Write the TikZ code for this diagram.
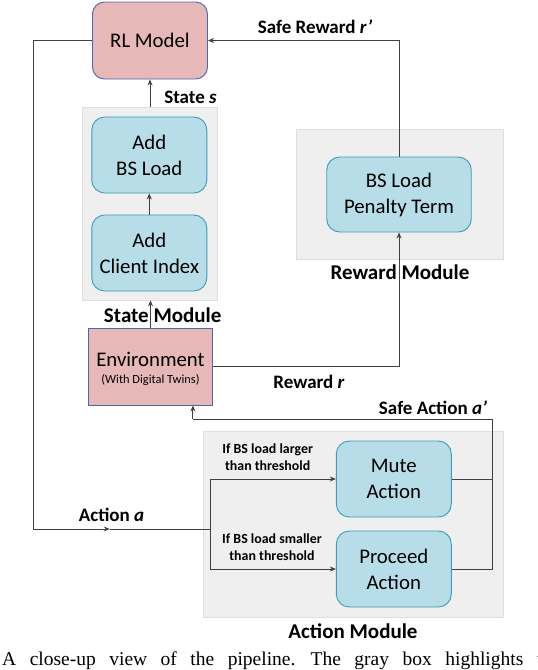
\documentclass[tikz,border=0pt]{standalone}
\usepackage{fontspec}
\setmainfont{Carlito}
\newfontfamily\capfont{Liberation Serif}
\usetikzlibrary{arrows.meta}
\definecolor{pinkfill}{HTML}{E6B9B8}
\definecolor{pinkedge}{HTML}{4A66AC}
\definecolor{cyanfill}{HTML}{B7DEE8}
\definecolor{cyanedge}{HTML}{3E9AB5}
\definecolor{grayfill}{HTML}{EFEFEF}
\definecolor{grayedge}{HTML}{DEDEDE}
\definecolor{linecol}{HTML}{404040}
\tikzset{
  boxtext/.style={font=\fontsize{20.8}{26}\selectfont, align=center, text=black},
  pinkbox/.style={boxtext, draw=pinkedge, fill=pinkfill, line width=0.9pt, inner sep=0pt},
  cyanbox/.style={boxtext, draw=cyanedge, fill=cyanfill, line width=0.9pt, rounded corners=13pt, inner sep=0pt, minimum width=115pt, minimum height=76pt},
  graybox/.style={draw=grayedge, fill=grayfill, line width=0.6pt, inner sep=0pt},
  modlabel/.style={font=\fontsize{21}{24}\selectfont\bfseries, inner sep=0pt},
  siglabel/.style={font=\fontsize{19}{22}\selectfont\bfseries, inner sep=0pt},
  condlabel/.style={font=\fontsize{13.9}{17}\selectfont\bfseries, align=center, inner sep=0pt},
  conn/.style={draw=linecol, line width=0.9pt},
  arr/.style={conn, -{Stealth[length=6pt,width=5pt]}},
}
\begin{document}
\begin{tikzpicture}[x=1pt,y=-1pt]
\useasboundingbox (0,0) rectangle (538,670);
% gray module boxes
\node[graybox, minimum width=134.5pt, minimum height=193pt] (sm) at (149.6,203.5) {};
\node[graybox, minimum width=207pt, minimum height=130pt] (rm) at (399.4,194) {};
\node[graybox, minimum width=299.5pt, minimum height=186pt] (am) at (353.3,524) {};
% main boxes
\node[pinkbox, rounded corners=12pt, minimum width=115pt, minimum height=77pt] (rl) at (150,40.5) {RL Model};
\node[cyanbox] (bsl) at (149.3,155) {Add\\BS Load};
\node[cyanbox] (ci) at (149.3,253) {Add\\Client Index};
\node[cyanbox, minimum width=144.5pt, minimum height=75pt] (pen) at (399,194.5) {BS Load\\Penalty Term};
\node[pinkbox, minimum width=124.6pt, minimum height=77pt] (env) at (150.5,366.5) {};
\node[font=\fontsize{20.8}{24}\selectfont, inner sep=0pt] (envt) at (150.5,359) {Environment};
\node[font=\fontsize{12.4}{14}\selectfont, inner sep=0pt] (envs) at (150.5,380.5) {(With Digital Twins)};
\node[cyanbox] (mute) at (393.8,479) {Mute\\Action};
\node[cyanbox] (proc) at (393.8,569) {Proceed\\Action};
% labels
\node[modlabel] (lsm) at (162.7,315) {State Module};
\node[modlabel] (lrm) at (400,272) {Reward Module};
\node[modlabel] (lam) at (353,631.5) {Action Module};
\node[siglabel] (ls) at (190.5,97.5) {State \textit{s}};
\node[siglabel] (lsr) at (315,26.5) {Safe Reward \textit{r'}};
\node[siglabel] (lr) at (309,381.5) {Reward \textit{r}};
\node[siglabel] (lsa) at (433,407.5) {Safe Action \textit{a'}};
\node[siglabel] (la) at (111.5,514.5) {Action \textit{a}};
\node[condlabel] (c1) at (267.7,457.5) {If BS load larger\\than threshold};
\node[condlabel] (c2) at (272,547.5) {If BS load smaller\\than threshold};
% coordinates
\coordinate (lc) at (33.3,529);
\coordinate (amid) at (109.8,529);
\coordinate (br) at (210.4,529);
\coordinate (bt) at (210.4,479);
\coordinate (bb) at (210.4,569);
\coordinate (sr) at (492.4,569);
\coordinate (st) at (492.4,419);
\coordinate (sl) at (192.9,419);
% connectors
\draw[arr] (ci.north) -- (bsl.south);
\draw[arr] (sm.north -| rl.south) -- (rl.south);
\draw[arr] (env.north) -- (sm.south -| env.north);
\draw[arr] (pen.north) |- (rl.east);
\draw[arr] (env.east) -| (pen.south);
\draw[arr] (rl.west) -| (lc) -- (amid);
\draw[conn] (amid) -- (br);
\draw[conn] (bt) -- (bb);
\draw[arr] (bt) -- (mute.west);
\draw[arr] (bb) -- (proc.west);
\draw[conn] (mute.east) -- (mute.east -| sr);
\draw[conn] (proc.east) -- (sr) -- (st) -- (sl);
\draw[arr] (sl) -- (env.south -| sl);
% caption (cut off at the right edge, as in the reference)
\begin{scope}
\clip (0,0) rectangle (538,670);
\node[anchor=base west, inner sep=0pt, font=\capfont\fontsize{19.5}{22}\selectfont] (cap) at (2,665) {\spaceskip=13.5pt A close-up view of the pipeline. The gray box highlights t};
\end{scope}
\end{tikzpicture}
\end{document}
